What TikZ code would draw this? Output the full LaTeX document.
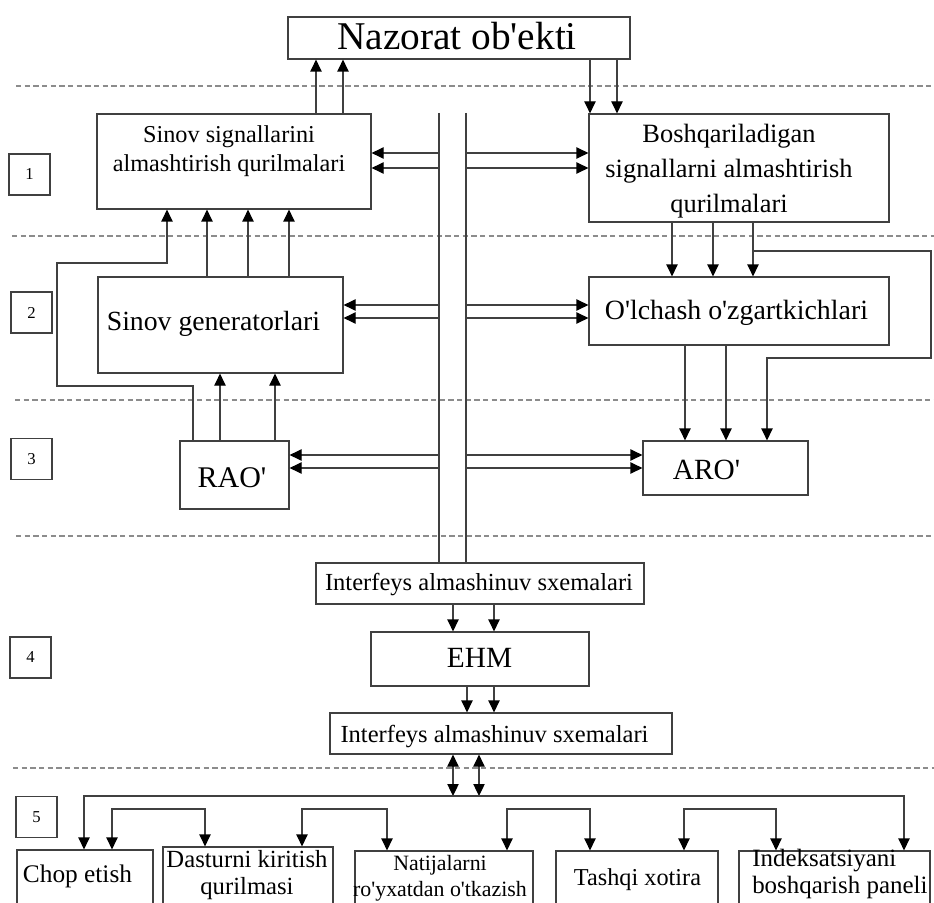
\documentclass[tikz,border=0pt]{standalone}
\usepackage{fontspec}
\setmainfont{Liberation Serif}
\usetikzlibrary{arrows.meta,fit}
\newcommand\myfs[2]{\fontsize{#1}{#2}\selectfont}
\newcommand\aq{\textquotesingle}
\begin{document}
\begin{tikzpicture}[x=0.75pt,y=-0.75pt,
  box/.style={draw=black!75, line width=0.9pt, inner sep=0pt},
  txt/.style={inner sep=0pt, align=center, anchor=base},
  ln/.style={draw=black!75, line width=0.9pt},
  arr/.style={ln, -{Triangle[length=9pt,width=8.5pt,color=black]}},
  darr/.style={ln, {Triangle[length=9pt,width=8.5pt,color=black]}-{Triangle[length=9pt,width=8.5pt,color=black]}},
  sep/.style={draw=black!45, line width=0.8pt, dash pattern=on 4pt off 2.5pt},
  num/.style={box, font=\myfs{12.5}{14}, minimum width=30.75pt, minimum height=30.75pt}
]
\useasboundingbox[fill=white] (0,0) rectangle (934,902);

% separators
\draw[sep] (16,86) -- (934,86);
\draw[sep] (12,236) -- (934,236);
\draw[sep] (15,400) -- (934,400);
\draw[sep] (16,536) -- (934,536);
\draw[sep] (13,768) -- (934,768);

% level numbers
\node[num] (n1) at (29.5,174.5) {1};
\node[num] (n2) at (31.5,312.5) {2};
\node[num] (n3) at (31.5,459) {3};
\node[num] (n4) at (30.5,657.5) {4};
\node[num] (n5) at (36.5,817) {5};

% boxes
\node[box, fit={(288,17)(630,59)}] (naz) {};
\node[box, fit={(97,114)(371,209)}] (sig) {};
\node[box, fit={(589,114)(889,222)}] (bosh) {};
\node[box, fit={(98,277)(343,373)}] (gen) {};
\node[box, fit={(589,277)(889,345)}] (olch) {};
\node[box, fit={(180,441)(289,509)}] (rao) {};
\node[box, fit={(643,441)(808,495)}] (aro) {};
\node[box, fit={(316,563)(644,604)}] (if1) {};
\node[box, fit={(371,632)(589,686)}] (ehm) {};
\node[box, fit={(330,713)(672,754)}] (if2) {};
\node[box, fit={(17,850)(153,906)}] (chop) {};
\node[box, fit={(163,847)(333,906)}] (dast) {};
\node[box, fit={(355,851)(533,906)}] (nat) {};
\node[box, fit={(556,851)(718,906)}] (tash) {};
\node[box, fit={(739,851)(930,906)}] (ind) {};

% texts (multi-line nodes: base = baseline of last line)
\node[txt, font=\myfs{29.5}{32}] (tnaz) at (457,50) {Nazorat ob\aq ekti};
\node[txt, font=\myfs{18.2}{21.75}] (tsig) at (229,172) {Sinov signallarini\\almashtirish qurilmalari};
\node[txt, font=\myfs{19.8}{26.5}] (tbosh) at (729,213) {Boshqariladigan\\signallarni almashtirish\\qurilmalari};
\node[txt, font=\myfs{20.8}{24}] (tgen) at (213.5,330) {Sinov generatorlari};
\node[txt, font=\myfs{20.9}{24}] (tolch) at (736.5,319) {O\aq lchash o\aq zgartkichlari};
\node[txt, font=\myfs{22.5}{25}] (trao) at (232,487) {RAO\aq};
\node[txt, font=\myfs{22}{25}] (taro) at (706.5,479) {ARO\aq};
\node[txt, font=\myfs{18.4}{21}] (tif1) at (479,590) {Interfeys almashinuv sxemalari};
\node[txt, font=\myfs{22}{25}] (tehm) at (479.5,667) {EHM};
\node[txt, font=\myfs{18.4}{21}] (tif2) at (494.5,742) {Interfeys almashinuv sxemalari};
\node[txt, font=\myfs{19}{22}] (tchop) at (77.5,882) {Chop etish};
\node[txt, font=\myfs{18.5}{20.25}] (tdast) at (247,894) {Dasturni kiritish\\qurilmasi};
\node[txt, font=\myfs{16.4}{19.5}] (tnat) at (440,896) {Natijalarni\\ro\aq yxatdan o\aq tkazish};
\node[txt, font=\myfs{18.2}{21}] (ttash) at (637.5,885) {Tashqi xotira};
\node[txt, font=\myfs{18.7}{20.25}, align=left, anchor=base west] (tind) at (752,893) {Indeksatsiyani\\boshqarish paneli};

% object links
\draw[arr] (316,0 |- sig.north) -- (316,0 |- naz.south);
\draw[arr] (343,0 |- sig.north) -- (343,0 |- naz.south);
\draw[arr] (590,0 |- naz.south) -- (590,0 |- bosh.north);
\draw[arr] (617,0 |- naz.south) -- (617,0 |- bosh.north);

% generators to test signal converters
\draw[arr] (207,0 |- gen.north) -- (207,0 |- sig.south);
\draw[arr] (248,0 |- gen.north) -- (248,0 |- sig.south);
\draw[arr] (289,0 |- gen.north) -- (289,0 |- sig.south);
\draw[arr] (193,0 |- rao.north) -- (193,386) -- (57,386) -- (57,263) -- (167,263) -- (167,0 |- sig.south);
\draw[arr] (220,0 |- rao.north) -- (220,0 |- gen.south);
\draw[arr] (275,0 |- rao.north) -- (275,0 |- gen.south);

% right side
\draw[arr] (672,0 |- bosh.south) -- (672,0 |- olch.north);
\draw[arr] (713,0 |- bosh.south) -- (713,0 |- olch.north);
\draw[arr] (753,0 |- bosh.south) -- (753,0 |- olch.north);
\draw[arr] (753,251) -- (931,251) -- (931,358) -- (767,358) -- (767,0 |- aro.north);
\draw[arr] (685,0 |- olch.south) -- (685,0 |- aro.north);
\draw[arr] (726,0 |- olch.south) -- (726,0 |- aro.north);

% bus
\coordinate (bL) at (439,113);
\coordinate (bR) at (466,113);
\draw[ln] (bL) -- (bL |- if1.north);
\draw[ln] (bR) -- (bR |- if1.north);
\foreach \yy/\nd in {153/sig,168/sig,305/gen,318/gen,455/rao,468/rao}{
  \draw[arr] (bL |- 0,\yy) -- (\nd.east |- 0,\yy);
}
\foreach \yy/\nd in {153/bosh,168/bosh,305/olch,318/olch,455/aro,468/aro}{
  \draw[arr] (bR |- 0,\yy) -- (\nd.west |- 0,\yy);
}

% computer
\draw[arr] (453,0 |- if1.south) -- (453,0 |- ehm.north);
\draw[arr] (494,0 |- if1.south) -- (494,0 |- ehm.north);
\draw[arr] (467,0 |- ehm.south) -- (467,0 |- if2.north);
\draw[arr] (494,0 |- ehm.south) -- (494,0 |- if2.north);
\draw[darr] (453,0 |- if2.south) -- (453,796);
\draw[darr] (479,0 |- if2.south) -- (479,796);

% peripherals
\draw[darr] (84,0 |- chop.north) -- (84,796) -- (904,796) -- (904,0 |- ind.north);
\draw[darr] (112,0 |- chop.north) -- (112,809) -- (205,809) -- (205,0 |- dast.north);
\draw[darr] (302,0 |- dast.north) -- (302,809) -- (387,809) -- (387,0 |- nat.north);
\draw[darr] (507,0 |- nat.north) -- (507,809) -- (590,809) -- (590,0 |- tash.north);
\draw[darr] (684,0 |- tash.north) -- (684,809) -- (776,809) -- (776,0 |- ind.north);
\end{tikzpicture}
\end{document}
